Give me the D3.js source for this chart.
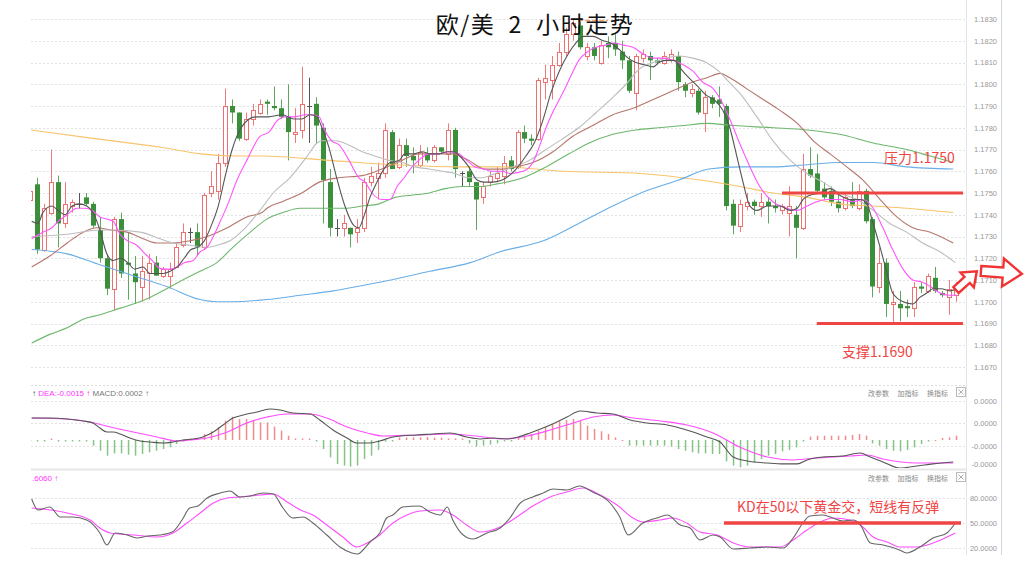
<!DOCTYPE html>
<html><head><meta charset="utf-8">
<script src="https://cdn.jsdelivr.net/npm/d3@7/dist/d3.min.js"></script>
<style>html,body{margin:0;padding:0;background:#fff;}svg{display:block;}</style>
</head><body><svg id="c" width="1024" height="566"></svg>
<script>
// ---------------- DATA ----------------
const titleText = "欧/美  2  小时走势";
const opens = [1.1747,1.1754,1.1724,1.1741,1.1755,1.1736,1.1744,1.1745,1.1748,1.1745,
1.1733,1.1720,1.1706,1.1738,1.1718,1.1713,1.1707,1.1713,1.1718,1.1712,
1.1712,1.1716,1.1726,1.1732,1.1732,1.1725,1.1750,1.1751,1.1764,1.1790,
1.1787,1.1775,1.1784,1.1787,1.1792,1.1790,1.1789,1.1785,1.1777,1.1779,
1.1790,1.1791,1.1780,1.1755,1.1734,1.1734,1.1734,1.1732,1.1734,1.1755,
1.1757,1.1759,1.1778,1.1762,1.1772,1.1767,1.1763,1.1768,1.1765,1.1771,
1.1768,1.1779,1.1759,1.1760,1.1755,1.1748,1.1755,1.1757,1.1758,1.1765,
1.1762,1.1778,1.1775,1.1775,1.1801,1.1802,1.1809,1.1815,1.1823,1.1827,
1.1813,1.1817,1.1810,1.1819,1.1819,1.1815,1.1811,1.1796,1.1812,1.1813,
1.1811,1.1810,1.1811,1.1813,1.1800,1.1796,1.1797,1.1787,1.1794,1.1793,
1.1790,1.1745,1.1735,1.1744,1.1746,1.1744,1.1746,1.1744,1.1742,1.1741,
1.1740,1.1734,1.1761,1.1759,1.1752,1.1751,1.1746,1.1743,1.1747,1.1743,
1.1751,1.1738,1.1707,1.1718,1.1699,1.1699,1.1698,1.1697,1.1707,1.1705,
1.1711,1.1704,1.1702,1.1703];
const highs = [1.1754,1.1757,1.1745,1.1770,1.1758,1.1755,1.1747,1.1750,1.1750,1.1746,
1.1739,1.1722,1.1739,1.1741,1.1732,1.1721,1.1721,1.1722,1.1721,1.1716,
1.1718,1.1727,1.1736,1.1734,1.1736,1.1750,1.1760,1.1768,1.1798,1.1793,
1.1787,1.1787,1.1791,1.1793,1.1793,1.1799,1.1793,1.1800,1.1789,1.1808,
1.1803,1.1794,1.1782,1.1761,1.1738,1.1740,1.1734,1.1738,1.1757,1.1762,
1.1764,1.1782,1.1779,1.1775,1.1775,1.1771,1.1772,1.1771,1.1772,1.1771,
1.1782,1.1780,1.1760,1.1762,1.1755,1.1755,1.1760,1.1762,1.1767,1.1767,
1.1779,1.1781,1.1777,1.1803,1.1809,1.1813,1.1819,1.1826,1.1830,1.1829,
1.1819,1.1819,1.1820,1.1822,1.1823,1.1820,1.1813,1.1814,1.1816,1.1815,
1.1812,1.1815,1.1816,1.1815,1.1801,1.1800,1.1798,1.1797,1.1795,1.1799,
1.1791,1.1747,1.1747,1.1750,1.1747,1.1750,1.1748,1.1747,1.1745,1.1753,
1.1744,1.1768,1.1771,1.1768,1.1755,1.1753,1.1750,1.1750,1.1755,1.1754,
1.1752,1.1739,1.1725,1.1720,1.1705,1.1705,1.1701,1.1709,1.1709,1.1713,
1.1716,1.1705,1.1710,1.1709];
const lows = [1.1744,1.1722,1.1723,1.1740,1.1725,1.1734,1.1741,1.1743,1.1744,1.1734,
1.1718,1.1703,1.1696,1.1711,1.1701,1.1699,1.1700,1.1701,1.1712,1.1711,
1.1706,1.1716,1.1725,1.1727,1.1721,1.1724,1.1748,1.1747,1.1762,1.1782,
1.1774,1.1774,1.1781,1.1786,1.1786,1.1788,1.1784,1.1765,1.1773,1.1775,
1.1773,1.1773,1.1736,1.1730,1.1730,1.1730,1.1725,1.1727,1.1732,1.1753,
1.1747,1.1757,1.1761,1.1761,1.1762,1.1759,1.1762,1.1764,1.1764,1.1768,
1.1765,1.1757,1.1753,1.1753,1.1733,1.1745,1.1753,1.1755,1.1754,1.1760,
1.1761,1.1773,1.1772,1.1774,1.1793,1.1793,1.1808,1.1813,1.1820,1.1816,
1.1811,1.1811,1.1809,1.1812,1.1813,1.1807,1.1796,1.1788,1.1810,1.1802,
1.1809,1.1809,1.1810,1.1797,1.1794,1.1794,1.1786,1.1778,1.1789,1.1785,
1.1742,1.1731,1.1732,1.1742,1.1740,1.1739,1.1736,1.1741,1.1740,1.1730,
1.1720,1.1733,1.1757,1.1750,1.1747,1.1744,1.1741,1.1742,1.1743,1.1742,
1.1736,1.1702,1.1704,1.1693,1.1690,1.1691,1.1693,1.1693,1.1704,1.1704,
1.1704,1.1702,1.1694,1.1700];
const closes = [1.1751,1.1724,1.1743,1.1755,1.1736,1.1745,1.1746,1.1745,1.1745,1.1735,
1.1720,1.1706,1.1738,1.1713,1.1717,1.1709,1.1714,1.1718,1.1712,1.1715,
1.1715,1.1725,1.1732,1.1732,1.1725,1.1749,1.1753,1.1764,1.1790,1.1787,
1.1775,1.1784,1.1788,1.1791,1.1791,1.1789,1.1785,1.1778,1.1778,1.1791,
1.1790,1.1781,1.1756,1.1734,1.1734,1.1736,1.1731,1.1734,1.1755,1.1758,
1.1759,1.1779,1.1761,1.1772,1.1767,1.1765,1.1769,1.1765,1.1771,1.1769,
1.1779,1.1761,1.1759,1.1755,1.1747,1.1753,1.1758,1.1759,1.1764,1.1761,
1.1778,1.1775,1.1774,1.1802,1.1803,1.1809,1.1815,1.1823,1.1828,1.1817,
1.1817,1.1813,1.1818,1.1817,1.1816,1.1811,1.1797,1.1813,1.1814,1.1811,
1.1810,1.1813,1.1814,1.1801,1.1797,1.1798,1.1787,1.1794,1.1791,1.1791,
1.1744,1.1735,1.1745,1.1746,1.1744,1.1746,1.1744,1.1743,1.1744,1.1744,
1.1734,1.1761,1.1758,1.1751,1.1748,1.1746,1.1743,1.1748,1.1744,1.1751,
1.1737,1.1707,1.1718,1.1699,1.1700,1.1697,1.1697,1.1707,1.1706,1.1712,
1.1705,1.1703,1.1706,1.1707];

// moving averages: [candle index, price]
const ma5 = [[0.2,1.1737],[1.1,1.1736],[1.8,1.1741],[3.1,1.1744],[4,1.1742],[5,1.1740],[6,1.1744],[7,1.1745],[8.1,1.1744],[9,1.1741],[10,1.1733],[11,1.1722],[11.9,1.1719],[13,1.1720],[14,1.1718],[15,1.1715],[16.2,1.1716],[17.2,1.1713],[18.2,1.1713],[19.1,1.1713],[20.1,1.1714],[21.1,1.1716],[22.1,1.1720],[23.1,1.1724],[24,1.1725],[25,1.1728],[26,1.1735],[27,1.1744],[28.1,1.1759],[29,1.1770],[30.3,1.1780],[32.3,1.1785],[34.2,1.1785],[36.2,1.1786],[37.9,1.1784],[39,1.1784],[40.2,1.1786],[41.2,1.1785],[41.9,1.1780],[42.9,1.1771],[44.1,1.1756],[45.2,1.1744],[46.5,1.1735],[47.2,1.1734],[47.9,1.1739],[48.8,1.1748],[49.8,1.1755],[50.8,1.1761],[51.7,1.1764],[53,1.1765],[53.8,1.1768],[55.1,1.1768],[56.3,1.1769],[57.4,1.1768],[58.7,1.1768],[59.9,1.1769],[60.9,1.1769],[61.7,1.1767],[63,1.1762],[64.2,1.1756],[65.2,1.1755],[66.3,1.1755],[67.8,1.1756],[69.8,1.1761],[71.2,1.1767],[72.4,1.1773],[73.7,1.1784],[74.8,1.1796],[76,1.1806],[77.3,1.1814],[78.4,1.1819],[79.5,1.1822],[80.8,1.1822],[82.3,1.1820],[83.4,1.1819],[84.6,1.1816],[85.9,1.1812],[87,1.1810],[88.2,1.1809],[89.5,1.1808],[90.3,1.1810],[91.3,1.1811],[92.5,1.1811],[93.5,1.1807],[94.6,1.1803],[95.9,1.1799],[97.1,1.1795],[98.2,1.1793],[99.5,1.1788],[100.5,1.1780],[101.5,1.1767],[102.4,1.1755],[103.4,1.1744],[104.4,1.1742],[105.9,1.1744],[107.7,1.1744],[109.2,1.1742],[110.2,1.1743],[111,1.1747],[112,1.1749],[113.5,1.1750],[114.9,1.1752],[116.3,1.1749],[117.8,1.1747],[119.2,1.1747],[120.2,1.1745],[121,1.1737],[122.1,1.1725],[123.1,1.1713],[123.9,1.1704],[125.4,1.1700],[126.8,1.1699],[127.8,1.1702],[128.8,1.1704],[129.7,1.1706],[130.9,1.1706],[132.1,1.1705],[133.1,1.1706]];
const ma10 = [[0.2,1.1729],[1.8,1.1732],[3.1,1.1734],[4,1.1737],[5.3,1.1740],[6.7,1.1743],[7.9,1.1743],[8.9,1.1742],[10,1.1739],[11,1.1738],[11.9,1.1737],[12.9,1.1731],[14,1.1728],[15.3,1.1726],[16.5,1.1722],[17.5,1.1719],[18.3,1.1716],[19.1,1.1715],[20.1,1.1715],[21.1,1.1716],[22.2,1.1718],[23.4,1.1719],[24.4,1.1723],[25.4,1.1725],[26.3,1.1730],[27.3,1.1737],[28.4,1.1745],[29.7,1.1756],[31.1,1.1765],[33,1.1776],[34.3,1.1778],[35.4,1.1783],[36.6,1.1785],[38,1.1785],[39.5,1.1786],[40.5,1.1786],[41.5,1.1785],[42.3,1.1779],[43.3,1.1774],[44.4,1.1772],[45.8,1.1765],[47.2,1.1757],[48.1,1.1755],[49.1,1.1750],[50.5,1.1747],[51.7,1.1747],[52.7,1.1753],[53.7,1.1757],[54.6,1.1761],[55.8,1.1765],[57.3,1.1768],[58.7,1.1768],[60.2,1.1769],[61.6,1.1768],[62.7,1.1765],[63.9,1.1762],[65.2,1.1761],[66.3,1.1760],[67.8,1.1760],[68.8,1.1759],[70.8,1.1760],[72.2,1.1764],[73.1,1.1771],[74.1,1.1780],[75.2,1.1788],[76.5,1.1796],[77.7,1.1804],[78.8,1.1811],[80.1,1.1815],[81.3,1.1817],[82.7,1.1818],[83.9,1.1819],[85.2,1.1818],[86.6,1.1817],[88,1.1814],[89.5,1.1812],[90.9,1.1812],[92.3,1.1811],[93.8,1.1809],[95.2,1.1806],[96.6,1.1801],[98.1,1.1798],[99.5,1.1791],[100.5,1.1784],[101.9,1.1773],[103.4,1.1762],[104.8,1.1753],[106.7,1.1746],[108.7,1.1743],[110.2,1.1742],[111.6,1.1744],[113,1.1746],[114.5,1.1747],[116.3,1.1747],[118.2,1.1746],[119.6,1.1747],[121.1,1.1743],[122.5,1.1734],[123.9,1.1724],[125.4,1.1715],[126.8,1.1710],[128.2,1.1709],[129.3,1.1707],[130.7,1.1704],[131.9,1.1703],[133.1,1.1703]];
const ma20 = [[0.2,1.1730],[5.3,1.1731],[10,1.1733],[11.9,1.1733],[15.8,1.1732],[18.6,1.1729],[20.5,1.1727],[22.9,1.1726],[25.4,1.1725],[26.8,1.1726],[28.7,1.1728],[30.6,1.1733],[33,1.1742],[34.9,1.1750],[37.3,1.1757],[39.8,1.1767],[41.2,1.1773],[41.9,1.1774],[43.8,1.1774],[45.8,1.1772],[47.7,1.1769],[49.5,1.1767],[51.5,1.1765],[53.4,1.1764],[55.3,1.1762],[57.3,1.1761],[59.2,1.1760],[61,1.1759],[63,1.1757],[64.9,1.1757],[66.8,1.1759],[69.3,1.1762],[71.7,1.1765],[74.1,1.1770],[76.5,1.1775],[78.8,1.1780],[81.3,1.1787],[83.7,1.1794],[85.6,1.1800],[87.5,1.1807],[89.5,1.1810],[91.3,1.1812],[93.2,1.1813],[95.2,1.1812],[97.1,1.1810],[98.9,1.1806],[100.4,1.1801],[101.9,1.1796],[104.4,1.1785],[106.7,1.1774],[109.2,1.1765],[111.6,1.1759],[113.9,1.1755],[116.3,1.1750],[118.8,1.1747],[121.1,1.1742],[123.5,1.1736],[125.9,1.1732],[128.2,1.1727],[130.7,1.1723],[132.9,1.1718]];
const ma30 = [[0.2,1.1716],[2.8,1.1721],[5.3,1.1727],[7.6,1.1732],[9.6,1.1734],[11.5,1.1733],[13.9,1.1732],[16.2,1.1729],[18.2,1.1727],[20.5,1.1727],[22.9,1.1728],[25.4,1.1730],[28.3,1.1734],[31.1,1.1739],[33.3,1.1741],[34,1.1743],[36.2,1.1746],[36.9,1.1747],[39,1.1750],[41.5,1.1755],[44.3,1.1757],[47.7,1.1758],[50.5,1.1761],[53.4,1.1765],[55.8,1.1768],[58.1,1.1768],[60.6,1.1768],[63,1.1765],[65.3,1.1761],[67.8,1.1761],[69.8,1.1762],[72.2,1.1764],[75.1,1.1769],[77.9,1.1776],[80.8,1.1781],[83.7,1.1786],[86.6,1.1789],[89.5,1.1793],[92.3,1.1797],[95.2,1.1801],[97.2,1.1803],[99.1,1.1805],[100.5,1.1803],[102.9,1.1798],[105.3,1.1793],[107.7,1.1788],[110.2,1.1782],[112.5,1.1774],[114.9,1.1768],[117.3,1.1762],[119.6,1.1756],[122.1,1.1747],[124.5,1.1739],[126.8,1.1734],[129.3,1.1732],[132.6,1.1727]];
const ma60 = [[0.2,1.1681],[2.8,1.1685],[5.3,1.1688],[7.6,1.1692],[10,1.1694],[11.9,1.1696],[14.8,1.1699],[17.2,1.1702],[19.6,1.1706],[21.9,1.1710],[24.4,1.1714],[26.8,1.1718],[29.1,1.1725],[31.6,1.1732],[34,1.1738],[36.3,1.1741],[38.8,1.1743],[41.6,1.1743],[45.2,1.1743],[47.7,1.1744],[50.1,1.1745],[52.4,1.1748],[54.8,1.1749],[57.3,1.1750],[59.6,1.1752],[62,1.1753],[64.5,1.1753],[66.8,1.1754],[70.8,1.1757],[74.1,1.1762],[77.4,1.1768],[80.3,1.1773],[83.7,1.1777],[87,1.1779],[90.3,1.1780],[93.8,1.1781],[97.2,1.1782],[101,1.1781],[106.7,1.1780],[111.6,1.1779],[116.3,1.1777],[121.1,1.1773],[125.9,1.1770],[129.3,1.1767],[132.6,1.1764]];
const ma120 = [[0.2,1.1724],[5.3,1.1722],[10,1.1717],[14.8,1.1712],[19.6,1.1707],[24.4,1.1701],[26.8,1.1700],[29.1,1.1700],[34,1.1701],[38.8,1.1703],[43.5,1.1705],[50.2,1.1709],[57.4,1.1714],[63.2,1.1718],[67.5,1.1723],[73.7,1.1728],[78.8,1.1736],[83.7,1.1744],[88.5,1.1751],[93.2,1.1756],[97.5,1.1761],[101.9,1.1762],[106.7,1.1762],[111.6,1.1763],[116.3,1.1764],[121.1,1.1764],[125.9,1.1762],[132.6,1.1761]];
const ma200 = [[0,1.1779],[9.3,1.1775],[18.8,1.1771],[24.5,1.1768],[30.3,1.1767],[33.3,1.1767],[42.9,1.1765],[52.4,1.1763],[62,1.1762],[67.8,1.1762],[76.5,1.1760],[87.6,1.1759],[96.2,1.1756],[101.9,1.1753],[106.7,1.1750],[111.6,1.1748],[116.3,1.1745],[121.1,1.1744],[125.9,1.1743],[132.6,1.1741]];

// MACD
const macdHist = [-0.0001,-0.0001,-0.0001,0.0001,-0.0001,-0.0001,-0.0001,-0.0001,-0.0001,-0.00037,
-0.0007,-0.00102,-0.00087,-0.00087,-0.00096,-0.00102,-0.00091,-0.0008,-0.0007,-0.00059,
-0.00048,-0.00026,-0.0001,0.0001,0.0001,0.00039,0.00057,0.00083,0.00126,0.00152,
0.00137,0.00137,0.00126,0.00115,0.00115,0.00087,0.00061,0.00028,0.0001,0.0001,
0.0001,-0.0001,-0.00059,-0.00113,-0.00157,-0.00167,-0.00174,-0.00167,-0.00124,-0.00102,
-0.00065,-0.0001,-0.0001,0.00017,0.00017,0.00017,0.00017,0.0002,0.00015,0.00015,
0.0001,0.0001,0.0001,-0.00022,-0.00043,-0.00037,-0.0003,-0.00022,-0.0001,-0.0001,
0.00017,0.00028,0.00039,0.00061,0.00083,0.00104,0.00122,0.0013,0.00137,0.00126,
0.00093,0.00072,0.00057,0.00039,0.00017,0,-0.00037,-0.00037,-0.00037,-0.00037,
-0.00037,-0.00037,-0.00043,-0.00059,-0.0007,-0.0008,-0.00087,-0.00087,-0.00091,-0.00091,
-0.00139,-0.00167,-0.00178,-0.00167,-0.00146,-0.00124,-0.00102,-0.00091,-0.00074,-0.00065,
-0.00048,-0.0001,0.00022,0.00028,0.00028,0.00028,0.00028,0.00028,0.00033,0.00039,
0.00028,-0.00022,-0.00037,-0.00059,-0.0007,-0.00074,-0.00065,-0.00048,-0.00026,-0.0001,
0,0.00013,0.00017,0.00028];
const dif = [[0.2,0.00143],[2.8,0.00143],[5.3,0.00137],[7.6,0.00124],[9,0.00111],[10,0.00078],[11,0.00052],[11.9,0.00052],[12.9,0.00039],[14.3,0.00013],[15.8,-0.00007],[17.2,-0.00013],[19.1,-0.0002],[20.5,-0.00013],[21.9,0],[23.4,0.00007],[24.8,0.0002],[26.3,0.00052],[27.7,0.00098],[29.1,0.00143],[30.6,0.00163],[32.6,0.00183],[34.4,0.00202],[35.9,0.00196],[37.7,0.00176],[40.2,0.0017],[41.6,0.0013],[43.5,0.00065],[45.5,0.00013],[46.9,-0.0002],[48.4,-0.0002],[50.2,-0.00007],[52.1,0.0002],[55.6,0.00033],[57.9,0.00039],[60.3,0.00046],[62.7,0.0002],[64.6,0.00007],[66.5,0.00013],[68.5,0.00007],[70.1,0.0002],[71.8,0.00046],[74.7,0.00098],[77.1,0.0015],[79,0.00189],[81.4,0.00176],[83.7,0.0017],[86.2,0.0013],[88.6,0.00111],[91.5,0.00098],[94.3,0.00065],[97.2,0.0002],[99.1,-0.00013],[101,-0.00111],[103,-0.00137],[105.9,-0.0015],[108.2,-0.00156],[110.2,-0.00156],[111.6,-0.0013],[113.9,-0.00111],[116.8,-0.00104],[119.2,-0.00085],[120.7,-0.00111],[122.5,-0.00143],[124.9,-0.00183],[127.4,-0.0017],[129.7,-0.00156],[132.6,-0.00143]];
const dea = [[0.2,0.00143],[5.3,0.00137],[8.6,0.00117],[11.5,0.00085],[14.8,0.00052],[18.2,0.0002],[21.1,-0.00007],[22.9,0],[25.4,0.00013],[28.3,0.00052],[31.1,0.00111],[34,0.0015],[36.9,0.0017],[40.2,0.0017],[42.6,0.00143],[45.5,0.00085],[48.4,0.00046],[50.7,0.00026],[55.6,0.00033],[60.3,0.00039],[65.1,0.0002],[67.5,0.00007],[71.4,0.00026],[74.7,0.00065],[78,0.00111],[80.9,0.0015],[83.7,0.00163],[86.6,0.00143],[90.5,0.00124],[94.3,0.00098],[98.1,0.00046],[101.9,-0.00046],[105.9,-0.00111],[109.6,-0.0013],[113,-0.00117],[117.8,-0.00104],[120.2,-0.00098],[122.5,-0.00124],[127.4,-0.0015],[132.6,-0.0015]];

// KD
const kLine = [[0.2,78.8],[1.1,65.6],[2.8,69.2],[4.3,57.2],[6.1,57.2],[8.1,53.6],[10,38],[11,23.6],[12.2,38],[13.9,35.6],[15.3,32],[16.9,34.4],[18.6,35.6],[20.4,39.2],[21.8,53.6],[22.9,68],[24.1,70.4],[25.4,80],[27.3,86],[28.7,88.4],[30.1,81.2],[31.6,82.4],[33.4,86],[34.9,84.8],[36.3,68],[37.7,56],[39.2,57.2],[40.6,50],[42.6,35.6],[44.5,21.2],[46.2,14],[47.1,12.8],[47.8,17.6],[48.8,27.2],[50.2,38],[51.2,56],[52.1,59.6],[53.5,69.2],[55.9,70.4],[57.4,63.2],[58.9,59.6],[59.9,69.2],[60.7,53.6],[62.2,35.6],[63.6,30.8],[65.6,38],[67.5,44],[68.9,56],[70.4,74],[72.2,81.2],[73.7,86],[75.1,90.8],[77.1,89.6],[78.9,94.4],[80.8,87.2],[83.3,74],[84.7,57.2],[85.9,35.6],[88,50],[90,56],[91.5,59.6],[93.4,47.6],[94.8,44],[96.2,29.6],[98.1,35.6],[99.1,33.2],[101,18.8],[103.4,20],[105.9,21.2],[108.2,20],[109.6,32],[111,50],[112,58.4],[113.9,59.6],[115.3,56],[116.8,52.4],[118.2,53.6],[119.2,48.8],[120.7,26],[122.5,23.6],[124.9,17.6],[125.9,14],[127.8,21.2],[129.7,32],[131.7,38],[132.9,50]];
const dLine = [[0.2,68],[5.3,62],[8.6,53.6],[10,44],[11.5,38],[14.8,35.6],[18.2,33.2],[20.5,38],[22.5,50],[24.4,62],[26.3,74],[28.3,80],[30.1,81.2],[33,83.6],[34.9,84.8],[36.9,75.2],[38.8,65.6],[40.6,59.6],[42.6,47.6],[44.9,33.2],[46.9,21.2],[48.4,26],[50.2,35.6],[52.1,50],[54.1,59.6],[56,64.4],[58.9,65.6],[60.7,59.6],[62.7,47.6],[64.6,39.2],[67.5,45.2],[69.9,57.2],[72.2,70.4],[74.7,81.2],[77.1,87.2],[79.4,92],[81.9,83.6],[84.3,71.6],[86.6,56],[88,51.2],[90.5,53.6],[92.3,56],[94.3,50],[96.2,39.2],[98.7,35.6],[101,26],[103.4,21.2],[107.7,21.2],[109.6,29.6],[111.6,41.6],[113.5,51.2],[115.3,56],[117.8,53.6],[119.6,45.2],[121.1,33.2],[123.1,27.2],[124.9,21.2],[127.4,21.2],[129.7,26],[132.9,38]];

// axes & annotations
const mainTicks = [1.1830,1.1820,1.1810,1.1800,1.1790,1.1780,1.1770,1.1760,1.1750,1.1740,1.1730,1.1720,1.1710,1.1700,1.1690,1.1680,1.1670];
const macdTicks = [0.00255,0.00111,-0.00037,-0.00156];
const macdTickLabels = ["0.0000","0.0000","-0.0000","-0.0000"];
const kdTicks = [80,50,20];
const resistance = 1.1750, support = 1.1690, kdLevel = 50;
const resistanceLabel = "压力1.1750", supportLabel = "支撑1.1690";
const kdNote = "KD在50以下黄金交，短线有反弹";
const ctrlLabels = ["改参数","加指标","换指标"];

// ---------------- DRAW ----------------
const svg = d3.select('#c');
svg.append('rect').attr('width',1024).attr('height',566).attr('fill','#fff');
const defs = svg.append('defs');
defs.append('clipPath').attr('id','cpMain').append('rect').attr('x',31).attr('y',0).attr('width',935).attr('height',383);
defs.append('clipPath').attr('id','cpMacd').append('rect').attr('x',31).attr('y',387).attr('width',935).attr('height',81);
defs.append('clipPath').attr('id','cpKd').append('rect').attr('x',31).attr('y',471).attr('width',935).attr('height',86);

const n = closes.length;
const xS = d3.scaleLinear().domain([0, n-1]).range([30.3, 956]);
const yMain = d3.scaleLinear().domain([1.1670, 1.1830]).range([367, 19]);
const yMacd = d3.scaleLinear().domain([-0.002, 0.003]).range([440 + 0.002*15333, 440 - 0.003*15333]);
const yKd = d3.scaleLinear().domain([20, 80]).range([548, 498]);
const NUMF = "'Liberation Sans', Arial, sans-serif";
const CJKF = "'Noto Sans CJK SC', 'Noto Sans', sans-serif";
const RED = "#ef4545";

// frame
svg.append('line').attr('x1',966.5).attr('x2',966.5).attr('y1',0).attr('y2',555).attr('stroke','#e4e4e4');
svg.append('line').attr('x1',1001.5).attr('x2',1001.5).attr('y1',0).attr('y2',555).attr('stroke','#d6d6d6');
svg.append('line').attr('x1',31).attr('x2',966).attr('y1',385.5).attr('y2',385.5).attr('stroke','#dcdcdc').attr('stroke-dasharray','2,2');
svg.append('line').attr('x1',31).attr('x2',966).attr('y1',469.5).attr('y2',469.5).attr('stroke','#e6e6e6').attr('stroke-width',2);

// grids
const grid = svg.append('g').attr('stroke','#e2e2e2').attr('stroke-dasharray','2,2');
mainTicks.forEach(v => grid.append('line').attr('x1',31).attr('x2',966).attr('y1',Math.round(yMain(v))+0.5).attr('y2',Math.round(yMain(v))+0.5));
macdTicks.slice(0,3).forEach(v => grid.append('line').attr('x1',31).attr('x2',966).attr('y1',Math.round(yMacd(v))+0.5).attr('y2',Math.round(yMacd(v))+0.5));
kdTicks.forEach(v => grid.append('line').attr('x1',31).attr('x2',966).attr('y1',Math.round(yKd(v))+0.5).attr('y2',Math.round(yKd(v))+0.5));

// axes (labels right aligned at x=997)
function styleAxis(g){ g.select('.domain').remove(); g.selectAll('line').remove();
  g.selectAll('text').attr('fill','#999').style('font-family',NUMF).style('font-size','7.5px'); }
svg.append('g').attr('transform','translate(997,0)')
  .call(d3.axisLeft(yMain).tickValues(mainTicks).tickFormat(d3.format('.4f')).tickSize(0).tickPadding(0)).call(styleAxis);
svg.append('g').attr('transform','translate(997,0)')
  .call(d3.axisLeft(yMacd).tickValues(macdTicks).tickFormat((d,i)=>macdTickLabels[i]).tickSize(0).tickPadding(0)).call(styleAxis);
svg.append('g').attr('transform','translate(997,0)')
  .call(d3.axisLeft(yKd).tickValues(kdTicks).tickFormat(d3.format('.4f')).tickSize(0).tickPadding(0)).call(styleAxis);

// main panel
const gm = svg.append('g').attr('clip-path','url(#cpMain)');
const idx = d3.range(n);
const cg = gm.append('g');
idx.forEach(i => {
  const cx = Math.round(xS(i));
  const o = opens[i], c = closes[i];
  const up = c > o, flat = c === o;
  const col = flat ? '#555' : (up ? '#ee6f6f' : '#3b8f3b');
  const wcol = flat ? '#555' : (up ? '#ee7a7a' : '#5fa65f');
  cg.append('line').attr('x1',cx+0.5).attr('x2',cx+0.5)
    .attr('y1',yMain(highs[i])).attr('y2',yMain(lows[i])).attr('stroke',wcol).attr('stroke-width',1);
  const yt = yMain(Math.max(o,c)), yb = yMain(Math.min(o,c));
  if (flat) {
    cg.append('line').attr('x1',cx-2).attr('x2',cx+3).attr('y1',Math.round(yt)+0.5).attr('y2',Math.round(yt)+0.5).attr('stroke',col);
  } else if (up) {
    cg.append('rect').attr('x',cx-1.5).attr('y',Math.round(yt)+0.5).attr('width',4)
      .attr('height',Math.max(1,Math.round(yb)-Math.round(yt))).attr('fill','#fff').attr('stroke',col).attr('stroke-width',1);
  } else {
    cg.append('rect').attr('x',cx-2).attr('y',yt).attr('width',5)
      .attr('height',Math.max(1.2,yb-yt)).attr('fill',col);
  }
});
const lineMain = d3.line().x(d=>xS(d[0])).y(d=>yMain(d[1])).curve(d3.curveMonotoneX);
[[ma200,'#f8c46c'],[ma120,'#69aee6'],[ma60,'#6cb76c'],[ma30,'#b5766c'],[ma20,'#bdbdbd'],[ma10,'#ff55ff'],[ma5,'#555555']]
  .forEach(([d,c]) => gm.append('path').attr('d',lineMain(d)).attr('fill','none').attr('stroke',c).attr('stroke-width',1.1));
// high marker
gm.append('line').attr('x1',xS(78)+5).attr('x2',xS(83)).attr('y1',yMain(highs[78])+1.5).attr('y2',yMain(highs[78])+1.5)
  .attr('stroke','#f2a36a').attr('stroke-width',1.5).attr('stroke-dasharray','5,2');

// support / resistance
svg.append('line').attr('x1',xS(108)).attr('x2',963).attr('y1',yMain(resistance)).attr('y2',yMain(resistance)).attr('stroke',RED).attr('stroke-width',3.2);
svg.append('line').attr('x1',xS(113)).attr('x2',963).attr('y1',yMain(support)).attr('y2',yMain(support)).attr('stroke',RED).attr('stroke-width',3.2);
svg.append('text').attr('x',884).attr('y',yMain(resistance)-30).text(resistanceLabel)
  .attr('fill',RED).style('font-family',CJKF).style('font-size','14px');
svg.append('text').attr('x',842).attr('y',yMain(support)+33).text(supportLabel)
  .attr('fill',RED).style('font-family',CJKF).style('font-size','14px');

// arrows
svg.append('path').attr('d','M0,-4 L15,-4 L15,-10 L28,0 L15,10 L15,4 L0,4 Z')
  .attr('transform','translate(956,290) rotate(-42)').attr('fill','#fff').attr('stroke','#f03434').attr('stroke-width',2.4).attr('stroke-linejoin','miter');
svg.append('path').attr('d','M0,-5 L22,-5 L22,-14 L41,0 L22,14 L22,5 L0,5 Z')
  .attr('transform','translate(981,271) rotate(4)').attr('fill','#fff').attr('stroke','#f03434').attr('stroke-width',2.4).attr('stroke-linejoin','miter');

// title
svg.append('text').attr('x',535).attr('y',33).attr('text-anchor','middle').text(titleText)
  .attr('fill','#111').style('font-family',CJKF).style('font-size','23px').style('letter-spacing','1.5px').style('white-space','pre');

// MACD panel
const gmacd = svg.append('g').attr('clip-path','url(#cpMacd)');
idx.forEach(i => {
  const v = macdHist[i]; const cx = Math.round(xS(i));
  const y0 = yMacd(0), y1 = yMacd(v);
  gmacd.append('rect').attr('x',cx-0.2).attr('width',1.5).attr('y',Math.min(y0,y1)).attr('height',Math.max(1,Math.abs(y1-y0)))
    .attr('fill', v >= 0 ? '#f28c8c' : '#86c386');
});
const lineMacd = d3.line().x(d=>xS(d[0])).y(d=>yMacd(d[1])).curve(d3.curveMonotoneX);
gmacd.append('path').attr('d',lineMacd(dea)).attr('fill','none').attr('stroke','#ff4dff').attr('stroke-width',1.1);
gmacd.append('path').attr('d',lineMacd(dif)).attr('fill','none').attr('stroke','#555').attr('stroke-width',1.1);

// KD panel
const gkd = svg.append('g').attr('clip-path','url(#cpKd)');
const lineKd = d3.line().x(d=>xS(d[0])).y(d=>yKd(d[1])).curve(d3.curveMonotoneX);
gkd.append('path').attr('d',lineKd(dLine)).attr('fill','none').attr('stroke','#ff4dff').attr('stroke-width',1.1);
gkd.append('path').attr('d',lineKd(kLine)).attr('fill','none').attr('stroke','#666').attr('stroke-width',1.1);
svg.append('line').attr('x1',724).attr('x2',961).attr('y1',yKd(kdLevel)).attr('y2',yKd(kdLevel)).attr('stroke',RED).attr('stroke-width',3.6);
svg.append('text').attr('x',737).attr('y',yKd(kdLevel)-11).text(kdNote)
  .attr('fill',RED).style('font-family',CJKF).style('font-size','14px');

// headers
const h1 = svg.append('text').attr('x',32).attr('y',396).style('font-family',NUMF).style('font-size','8px');
h1.append('tspan').attr('fill','#555').text('↑ ');
h1.append('tspan').attr('fill','#ff33ff').text('DEA:-0.0015 ↑ ');
h1.append('tspan').attr('fill','#777').text('MACD:0.0002 ↑');
svg.append('text').attr('x',32).attr('y',481).style('font-family',NUMF).style('font-size','8px').attr('fill','#ff33ff').text('.6060 ↑');

[396, 481].forEach(yb => {
  ctrlLabels.forEach((t,k) => svg.append('text').attr('x',868 + k*29.5).attr('y',yb).text(t)
     .attr('fill','#888').style('font-family',CJKF).style('font-size','7px'));
  svg.append('rect').attr('x',956.5).attr('y',yb-8.5).attr('width',9).attr('height',9).attr('fill','#fff').attr('stroke','#bbb');
  svg.append('path').attr('d',`M958.5,${yb-6.5} L963.5,${yb-1.5} M963.5,${yb-6.5} L958.5,${yb-1.5}`).attr('stroke','#999').attr('stroke-width',0.8);
});
</script></body></html>
